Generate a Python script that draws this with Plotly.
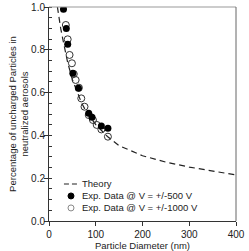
import plotly.graph_objects as go

# Theory curve
theory_x = [18, 20, 25, 30, 35, 40, 50, 60, 70, 80, 100, 125, 150, 200, 250, 300, 350, 400]
theory_y = [1.0, 0.97, 0.90, 0.845, 0.79, 0.74, 0.66, 0.60, 0.55, 0.51, 0.45, 0.395, 0.352, 0.305, 0.275, 0.252, 0.232, 0.215]

# Exp. data @ +/-500 V (filled)
d500_x = [31, 37, 40, 51, 63, 85, 92, 112, 126]
d500_y = [0.99, 0.90, 0.826, 0.69, 0.62, 0.503, 0.485, 0.444, 0.433]

# Exp. data @ +/-1000 V (open)
d1000_x = [36, 40, 44, 49, 53, 57, 64, 69, 76, 85, 94, 102, 112, 126]
d1000_y = [0.916, 0.849, 0.776, 0.737, 0.687, 0.659, 0.623, 0.573, 0.534, 0.495, 0.472, 0.449, 0.428, 0.394]

legend_labels = ["Theory", "Exp. Data @ V = +/-500 V", "Exp. Data @ V = +/-1000 V"]

font_family = "Liberation Sans, Arial, sans-serif"
txt = "#222222"

fig = go.Figure()
fig.add_trace(go.Scatter(x=theory_x, y=theory_y, mode="lines", name=legend_labels[0],
                         line=dict(color="#222222", width=1.2, dash="6px,4px")))
fig.add_trace(go.Scatter(x=d1000_x, y=d1000_y, mode="markers", name=legend_labels[2],
                         marker=dict(symbol="circle-open", size=7, color="#333333", line=dict(width=1))))
fig.add_trace(go.Scatter(x=d500_x, y=d500_y, mode="markers", name=legend_labels[1],
                         marker=dict(symbol="circle", size=7, color="#000000")))

fig.update_layout(
    width=249, height=251,
    margin=dict(l=49, r=13, t=7, b=30),
    paper_bgcolor="white", plot_bgcolor="white",
    font=dict(family=font_family, size=10, color=txt),
    showlegend=False,
    xaxis=dict(range=[0, 400], dtick=100, showgrid=False, zeroline=False,
               showline=True, linecolor="#333333", linewidth=1,
               ticks="outside", ticklen=4, tickcolor="#333333",
               title=dict(text="Particle Diameter (nm)", font=dict(size=9.5), standoff=4),
               automargin=False),
    yaxis=dict(range=[0, 1.0], dtick=0.2, tickformat=".1f", showgrid=False, zeroline=False,
               showline=True, linecolor="#333333", linewidth=1,
               ticks="outside", ticklen=4, tickcolor="#333333",
               ticklabelstandoff=-3,
               minor=dict(ticks="inside", dtick=0.05, ticklen=3, tickcolor="#333333"),
               title=dict(text="Percentage of uncharged Particles in<br>neutralized aerosols",
                          font=dict(size=9.5), standoff=0),
               automargin=False),
)
# top and right frame (gray)
fig.add_shape(type="line", xref="paper", yref="paper", x0=0, x1=1, y0=1, y1=1,
              line=dict(color="#999999", width=1))
fig.add_shape(type="line", xref="paper", yref="paper", x0=1, x1=1, y0=0, y1=1,
              line=dict(color="#666666", width=1))

# manual legend (compact rows)
leg_text_x = 0.168
leg_rows_y = [0.173, 0.117, 0.061]
sym_x = 0.1176
fig.add_shape(type="line", xref="paper", yref="paper", x0=0.080, x1=0.166,
              y0=leg_rows_y[0], y1=leg_rows_y[0],
              line=dict(color="#222222", width=1.2, dash="5px,3px"))
for i, (fill, lc) in enumerate([("#000000", "#000000"), ("white", "#888888")]):
    fig.add_shape(type="circle", xref="paper", yref="paper",
                  xsizemode="pixel", ysizemode="pixel",
                  xanchor=sym_x, yanchor=leg_rows_y[i + 1],
                  x0=-3, x1=3, y0=-3, y1=3,
                  fillcolor=fill, line=dict(color=lc, width=1))
for lab, yy in zip(legend_labels, leg_rows_y):
    fig.add_annotation(text=lab, xref="paper", yref="paper", x=leg_text_x, y=yy,
                       xanchor="left", yanchor="middle", showarrow=False,
                       font=dict(size=9.5, color=txt))

fig.write_html("out.html")
